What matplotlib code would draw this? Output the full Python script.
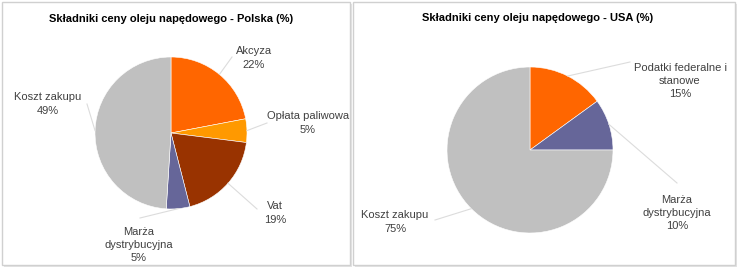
import numpy as np
import matplotlib.pyplot as plt
from matplotlib.patches import Rectangle

# Data
pl_labels = ['Akcyza', 'Opłata paliwowa', 'Vat', 'Marża\ndystrybucyjna', 'Koszt zakupu']
pl_values = [22, 5, 19, 5, 49]
pl_colors = ['#FF6600', '#FF9900', '#993300', '#666699', '#C0C0C0']

us_labels = ['Podatki federalne i\nstanowe', 'Marża\ndystrybucyjna', 'Koszt zakupu']
us_values = [15, 10, 75]
us_colors = ['#FF6600', '#666699', '#C0C0C0']

W, H = 740, 270
plt.rcParams['font.family'] = ['Liberation Sans', 'DejaVu Sans']

fig = plt.figure(figsize=(W / 100, H / 100), dpi=100)
ax = fig.add_axes([0, 0, 1, 1])


def py(y):
    # pixel row (from top) -> data y
    return H - y


# panel frames
for x0, x1 in [(2, 350), (353, 735)]:
    ax.add_patch(Rectangle((x0 + 2, py(267)), x1 - x0, 263, facecolor='#E4E4E4', edgecolor='none'))
    ax.add_patch(Rectangle((x0, py(265)), x1 - x0, 263, facecolor='white', edgecolor='#D0D0D0', lw=1))


def draw_pie(values, labels, colors, center, radius, label_pos, anchors):
    cx, cy = center[0], py(center[1])
    ax.pie(values, colors=colors, startangle=90, counterclock=False,
           center=(cx, cy), radius=radius, frame=True,
           wedgeprops=dict(edgecolor='white', linewidth=0.4))
    total = sum(values)
    start = 90.0
    for val, lab, (lx, ly), (axx, ayy) in zip(values, labels, label_pos, anchors):
        mid = np.radians(start - val / total * 180)
        start -= val / total * 360
        ex = cx + radius * np.cos(mid)
        ey = cy + radius * np.sin(mid)
        ax.plot([ex, axx], [ey, py(ayy)], color='#DCDCDC', lw=0.8)
        ax.text(lx, py(ly), f'{lab}\n{val}%', ha='center', va='center',
                fontsize=8, color='#404040', linespacing=1.4)


draw_pie(pl_values, pl_labels, pl_colors, (171, 133), 76,
         [(254, 58), (308, 123), (275, 213), (139, 245), (48, 104)],
         [(232, 57), (267, 123), (257, 209), (140, 218), (87, 104)])
draw_pie(us_values, us_labels, us_colors, (530, 150), 83,
         [(680, 81), (677, 213), (395, 222)],
         [(630, 62), (677, 183), (435, 220)])

ax.text(171, py(19), 'Składniki ceny oleju napędowego - Polska (%)', ha='center', va='center',
        fontsize=8, fontweight='bold', color='black')
ax.text(538, py(18), 'Składniki ceny oleju napędowego - USA (%)', ha='center', va='center',
        fontsize=8, fontweight='bold', color='black')

ax.set_xlim(0, W)
ax.set_ylim(0, H)
ax.set_aspect('auto')
ax.axis('off')

fig.savefig('out.png', dpi=100)
